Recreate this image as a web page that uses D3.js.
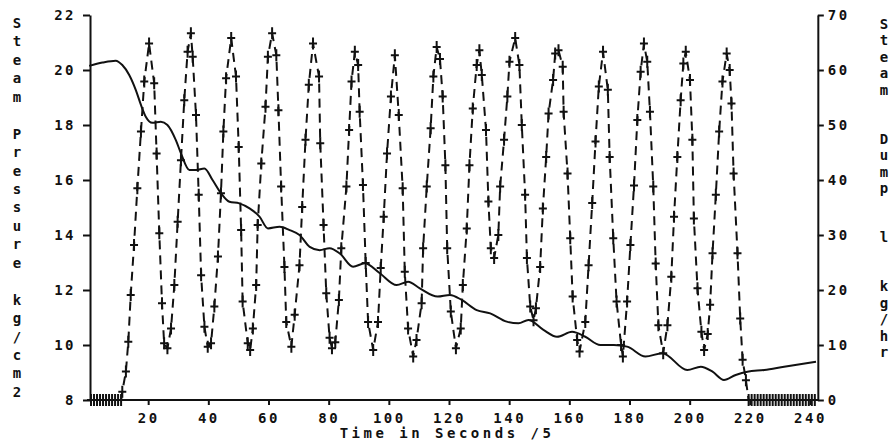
<!DOCTYPE html>
<html lang="en">
<head>
    <meta charset="UTF-8">
    <title>Steam Pressure / Steam Dump</title>
    <script src="https://d3js.org/d3.v7.min.js"></script>
    <style>
        body {
            margin: 0;
            background: #fff;
            overflow: hidden;
        }
        svg {
            display: block;
        }
        text {
            font-family: 'DejaVu Sans Mono', monospace;
            font-weight: bold;
            font-size: 14px;
            fill: #111;
        }
        .axis path, .axis line {
            stroke: #111;
            stroke-width: 2;
        }
        .axis text {
            letter-spacing: 2.5px;
        }
    </style>
</head>
<body>
    <svg></svg>

    <script>
        const width = 893, height = 443;

        // tick labels
        const timeTicks = [20, 40, 60, 80, 100, 120, 140, 160, 180, 200, 220, 240];
        const pressureTicks = [8, 10, 12, 14, 16, 18, 20, 22];
        const dumpTicks = [0, 10, 20, 30, 40, 50, 60, 70];

        // steam pressure, kg/cm2 (solid line)  [time, value]
        const pressure = [
            [0.4, 20.15], [4.8, 20.27], [9.2, 20.34], [11.4, 20.18], [13.7, 19.82], [15.9, 19.27],
            [17.6, 18.73], [19.2, 18.3], [21.4, 18.08], [24.2, 18.12], [26.4, 18.0], [29.2, 17.45],
            [30.9, 16.97], [33.7, 16.36], [35.9, 16.36], [38.7, 16.42], [41.4, 16.0], [44.2, 15.52],
            [47.0, 15.21], [50.3, 15.15], [53.7, 14.97], [57.0, 14.67], [59.8, 14.24], [63.7, 14.3],
            [67.0, 14.18], [70.3, 14.0], [73.7, 13.57], [77.0, 13.45], [80.3, 13.52], [83.7, 13.33],
            [88.1, 12.85], [92.0, 12.97], [97.0, 12.61], [102.6, 12.18], [106.4, 12.3], [110.3, 12.06],
            [116.2, 11.76], [120.3, 11.82], [124.2, 11.64], [129.2, 11.27], [133.7, 11.15], [139.2, 10.85],
            [143.1, 10.79], [146.4, 10.91], [151.4, 10.55], [155.9, 10.3], [160.9, 10.48], [165.3, 10.3],
            [170.3, 10.0], [174.8, 10.0], [179.2, 9.94], [185.3, 9.58], [190.9, 9.7], [199.2, 9.09],
            [203.7, 9.21], [207.6, 9.03], [211.4, 8.73], [215.3, 8.91], [219.2, 9.03], [224.8, 9.09],
            [231.4, 9.21], [242.0, 9.39]
        ];

        // steam dump, kg/hr (dashed line with crosses)
        const dumpIdleStart = [1, 2, 3, 4, 5, 6, 7, 8, 9, 10, 11];
        const dumpIdleEnd = [219.6, 220.6, 221.6, 222.6, 223.6, 224.6, 225.6, 226.6, 227.6, 228.6, 229.6,
            230.6, 231.6, 232.6, 233.6, 234.6, 235.6, 236.6, 237.6, 238.6, 239.6, 240.6, 241.6];
        const dumpCycling = [
            [11.4, 1.5], [12.6, 5.2], [13.4, 10.6], [14.2, 19.1], [15.3, 28.2], [16.4, 38.5],
            [17.6, 48.8], [18.7, 57.9], [20.3, 64.8], [22.0, 57.6], [22.8, 44.8], [23.7, 30.3],
            [24.6, 17.6], [25.3, 10.3], [26.4, 9.4], [27.6, 13.0], [28.7, 20.9], [29.8, 32.4],
            [30.9, 43.6], [32.0, 54.5], [33.1, 63.3], [34.2, 66.7], [34.8, 62.4], [35.9, 51.8],
            [36.8, 37.3], [37.6, 22.7], [38.7, 13.3], [39.8, 9.7], [40.9, 10.3], [42.0, 17.0],
            [43.2, 26.1], [44.2, 37.6], [45.0, 48.8], [45.9, 58.5], [47.6, 65.8], [49.2, 58.8],
            [50.1, 46.0], [50.9, 30.9], [51.4, 17.9], [53.1, 10.3], [53.9, 9.1], [54.8, 13.0],
            [55.9, 20.9], [56.4, 31.8], [57.6, 43.0], [59.0, 53.3], [59.8, 62.4], [61.2, 66.7],
            [62.6, 62.7], [63.3, 52.7], [64.2, 38.8], [65.3, 24.2], [65.9, 14.2], [67.6, 9.7],
            [68.7, 15.5], [70.3, 24.5], [71.2, 35.1], [72.3, 47.3], [73.4, 57.3], [74.8, 64.8],
            [76.8, 58.8], [77.2, 46.7], [78.3, 31.8], [79.2, 19.4], [80.3, 11.3], [81.1, 9.4],
            [82.2, 10.5], [83.4, 18.2], [84.2, 27.6], [85.9, 38.8], [86.8, 49.1], [87.6, 57.9],
            [88.7, 63.3], [89.8, 60.9], [90.3, 52.4], [91.4, 39.1], [92.3, 24.9], [93.1, 14.2],
            [94.8, 9.1], [96.4, 14.2], [97.3, 24.0], [98.3, 33.3], [99.4, 44.8], [100.7, 55.2],
            [102.0, 62.7], [103.3, 51.8], [104.6, 38.5], [105.3, 23.3], [106.4, 13.0], [108.1, 7.9],
            [109.2, 10.9], [110.9, 17.6], [111.4, 27.6], [112.6, 38.8], [113.9, 49.4], [114.8, 58.8],
            [115.9, 64.2], [117.0, 62.0], [117.9, 55.2], [118.8, 42.7], [119.4, 27.6], [120.6, 16.1],
            [122.3, 9.4], [123.9, 13.0], [124.6, 20.9], [125.9, 31.2], [126.8, 42.7], [127.9, 53.0],
            [129.2, 60.9], [130.1, 63.6], [130.9, 59.1], [132.3, 49.1], [133.1, 36.1], [133.9, 27.6],
            [135.0, 25.8], [136.4, 30.0], [137.0, 38.8], [138.3, 47.3], [139.4, 55.2], [140.1, 61.5],
            [142.0, 65.8], [143.4, 60.9], [144.2, 50.0], [145.3, 37.3], [145.9, 25.8], [147.0, 17.0],
            [148.1, 14.5], [148.9, 16.7], [150.3, 24.2], [151.2, 34.8], [152.3, 44.2], [153.1, 52.1],
            [154.6, 58.2], [155.3, 63.0], [156.4, 63.6], [157.8, 60.6], [158.1, 52.4], [159.4, 41.2],
            [160.3, 29.4], [161.1, 18.8], [162.6, 10.9], [163.4, 8.8], [165.3, 14.2], [166.4, 24.5],
            [167.6, 35.8], [168.7, 47.0], [169.8, 57.0], [171.2, 63.3], [172.8, 56.4], [173.4, 44.2],
            [174.6, 29.4], [175.7, 17.9], [177.2, 10.0], [177.8, 7.9], [179.2, 17.9], [180.3, 28.2],
            [181.5, 39.0], [182.6, 50.9], [183.7, 59.7], [184.8, 64.8], [185.9, 61.5], [186.8, 52.4],
            [187.9, 38.8], [188.7, 24.8], [189.6, 13.6], [191.2, 8.5], [192.6, 13.6], [193.9, 22.4],
            [194.8, 33.3], [195.9, 44.2], [197.0, 54.5], [197.9, 61.2], [198.7, 63.3], [200.1, 58.2],
            [200.9, 47.3], [201.4, 33.0], [202.6, 20.3], [203.9, 12.4], [204.8, 9.1], [206.0, 12.0],
            [206.8, 17.3], [207.6, 26.7], [208.7, 37.3], [209.8, 48.8], [210.9, 57.9], [212.3, 63.0],
            [213.3, 60.0], [213.9, 53.9], [214.6, 41.2], [215.9, 26.7], [216.8, 14.8], [217.6, 7.3],
            [218.7, 3.6]
        ];

        const leftTitle = "Steam Pressure kg/cm2";
        const rightTitle = "Steam  Dump  l  kg/hr";
        const bottomTitle = "Time in Seconds /5";

        // frame extent in data units
        const timeFrame = [0.67, 242.6];

        const svg = d3.select("svg").attr("width", width).attr("height", height);

        const x = d3.scaleLinear().domain([0, 240]).range([88, 810]);
        const yL = d3.scaleLinear().domain([8, 22]).range([400, 15]);
        const yR = d3.scaleLinear().domain([0, 70]).range([400, 15]);

        const xLeft = x(timeFrame[0]), xRight = x(timeFrame[1]);

        // left axis
        svg.append("g")
            .attr("class", "axis")
            .attr("transform", `translate(${xLeft},0)`)
            .call(d3.axisLeft(yL).tickValues(pressureTicks).tickSize(7).tickSizeOuter(0).tickPadding(7));

        // right axis
        svg.append("g")
            .attr("class", "axis")
            .attr("transform", `translate(${xRight},0)`)
            .call(d3.axisRight(yR).tickValues(dumpTicks).tickSize(6).tickSizeOuter(0).tickPadding(4));

        // bottom axis
        const bottom = svg.append("g")
            .attr("class", "axis")
            .attr("transform", `translate(0,${yL(8)})`)
            .call(d3.axisBottom(x).tickValues(timeTicks).tickSize(5).tickSizeOuter(0).tickPadding(8));
        bottom.select(".domain").remove();
        bottom.append("line")
            .attr("x1", xLeft).attr("x2", xRight)
            .attr("stroke", "#111").attr("stroke-width", 2);

        svg.selectAll(".axis text").style("font-size", "14px").style("font-family", "'DejaVu Sans Mono', monospace");

        // pressure (solid)
        svg.append("path")
            .datum(pressure)
            .attr("fill", "none")
            .attr("stroke", "#111")
            .attr("stroke-width", 2)
            .attr("d", d3.line()
                .x(d => x(d[0]))
                .y(d => yL(d[1]))
                .curve(d3.curveMonotoneX));

        // steam dump (dashed with crosses)
        const dump = dumpIdleStart.map(t => [t, 0])
            .concat(dumpCycling)
            .concat(dumpIdleEnd.map(t => [t, 0]));

        svg.append("path")
            .datum(dump)
            .attr("fill", "none")
            .attr("stroke", "#111")
            .attr("stroke-width", 2)
            .attr("stroke-dasharray", "9,6")
            .attr("d", d3.line()
                .x(d => x(d[0]))
                .y(d => yR(d[1])));

        svg.append("g")
            .selectAll("path")
            .data(dump)
            .enter().append("path")
            .attr("transform", d => `translate(${x(d[0])},${yR(d[1])})`)
            .attr("d", "M-4,0H4M0,-6V6")
            .attr("stroke", "#111")
            .attr("stroke-width", 2);

        // titles, one character per line
        svg.append("g")
            .selectAll("text")
            .data(leftTitle.split(""))
            .enter().append("text")
            .attr("x", 17)
            .attr("y", (d, i) => 23 + i * 18.45)
            .attr("dy", "0.35em")
            .attr("text-anchor", "middle")
            .text(d => d);

        svg.append("g")
            .selectAll("text")
            .data(rightTitle.split(""))
            .enter().append("text")
            .attr("x", 884)
            .attr("y", (d, i) => 24 + i * 16.4)
            .attr("dy", "0.35em")
            .attr("text-anchor", "middle")
            .text(d => d);

        svg.append("text")
            .attr("x", 447)
            .attr("y", 438)
            .attr("text-anchor", "middle")
            .style("letter-spacing", "3.5px")
            .text(bottomTitle);
    </script>
</body>
</html>
